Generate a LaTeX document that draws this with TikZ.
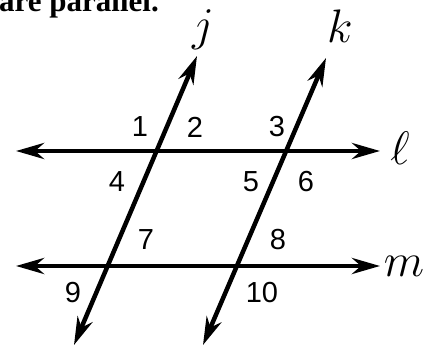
\RequirePackage{fix-cm}
\documentclass[tikz,border=0pt]{standalone}
\usepackage{fontspec}
\usepackage{amsmath}
\setmainfont{Liberation Serif}
\newfontfamily\digitfont{Liberation Sans}
\usetikzlibrary{arrows.meta}
\tikzset{
  ray/.style={line width=4.5pt,{Stealth[length=28pt,width=16pt,inset=9pt]}-{Stealth[length=28pt,width=16pt,inset=9pt]}},
  angnum/.style={font=\digitfont\fontsize{29}{29}\selectfont,inner sep=0pt},
  linelbl/.style={font=\fontsize{47}{47}\selectfont,inner sep=0pt}
}

\begin{document}
\begin{tikzpicture}[x=1pt,y=1pt]
  \useasboundingbox (0,0) rectangle (431,356);
  % heading line, cut off at the top
  \node[anchor=base west,inner sep=0pt,font=\bfseries\fontsize{31}{31}\selectfont] (head) at (-1,344) {are parallel.};
  % end points of the four lines
  \coordinate (lW) at (16,205);  \coordinate (lE) at (380,205);
  \coordinate (mW) at (16,90);   \coordinate (mE) at (380,90);
  \coordinate (jN) at (197,300); \coordinate (jS) at (74,11);
  \coordinate (kN) at (326,298); \coordinate (kS) at (203,11);
  \draw[ray] (lW) -- (lE);
  \draw[ray] (mW) -- (mE);
  \draw[ray] (jS) -- (jN);
  \draw[ray] (kS) -- (kN);
  % line names
  \node[linelbl] (jlbl) at (203,326) {$j$};
  \node[linelbl] (klbl) at (340,330) {$k$};
  \node[linelbl] (llbl) at (400,208) {$\ell$};
  \node[linelbl] (mlbl) at (404,90) {$m$};
  % angle numbers
  \node[angnum] (a1) at (140,229) {1};
  \node[angnum] (a2) at (195,229) {2};
  \node[angnum] (a3) at (277,229) {3};
  \node[angnum] (a4) at (117,174) {4};
  \node[angnum] (a5) at (251,174) {5};
  \node[angnum] (a6) at (306,174) {6};
  \node[angnum] (a7) at (146,116) {7};
  \node[angnum] (a8) at (278,116) {8};
  \node[angnum] (a9) at (73,63) {9};
  \node[angnum] (a10) at (262,63) {10};
\end{tikzpicture}
\end{document}
